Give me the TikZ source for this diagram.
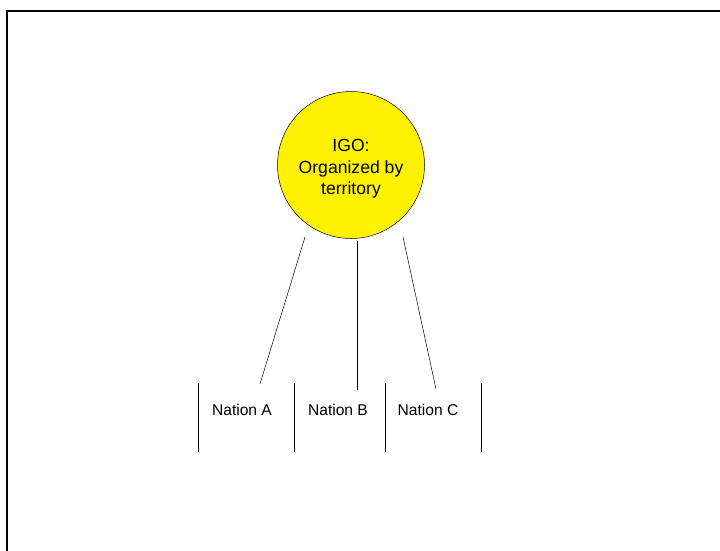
\documentclass[tikz,border=0pt]{standalone}
\usepackage{fontspec}
\setmainfont{Liberation Sans}
\usetikzlibrary{positioning}

\begin{document}
\begin{tikzpicture}[
  x=1pt, y=-1pt,
  every node/.style={align=center},
  igo/.style={
    draw, circle, fill=yellow, minimum size=147pt, inner sep=0pt,
    line width=0.5pt
  },
  igotext/.style={inner sep=0pt, font=\fontsize{17.6}{21.5}\selectfont},
  nation/.style={inner sep=0pt, font=\fontsize{15.6}{18}\selectfont},
  link/.style={line width=0.5pt},
  sep/.style={line width=0.6pt},
  frame/.style={line width=2pt}
]
\useasboundingbox (0,0) rectangle (720,550);
\draw[frame] (7,551) -- (7,11) -- (721,11);

\node[igo] (igo) at (351,165) {};
\node[igotext, yshift=-4pt] (igolbl) at (igo.center) {IGO:\\Organized by\\territory};

\node[nation] (natA) at (242,410) {Nation A};
\node[nation] (natB) at (338,410) {Nation B};
\node[nation] (natC) at (428,410) {Nation C};

% link ends
\coordinate (topA) at (305,237);
\coordinate (topB) at (357,241);
\coordinate (topC) at (403,237);
\coordinate (endA) at (260,384);
\coordinate (endB) at (357,390);
\coordinate (endC) at (436,389);

\draw[link] (topA) -- (endA);
\draw[link] (topB) -- (endB);
\draw[link] (topC) -- (endC);

% separators
\foreach \sx [count=\i] in {198,294,385,481} {
  \coordinate (sepT\i) at (\sx,383);
  \coordinate (sepB\i) at (\sx,452);
  \draw[sep] (sepT\i) -- (sepB\i);
}

\end{tikzpicture}
\end{document}
